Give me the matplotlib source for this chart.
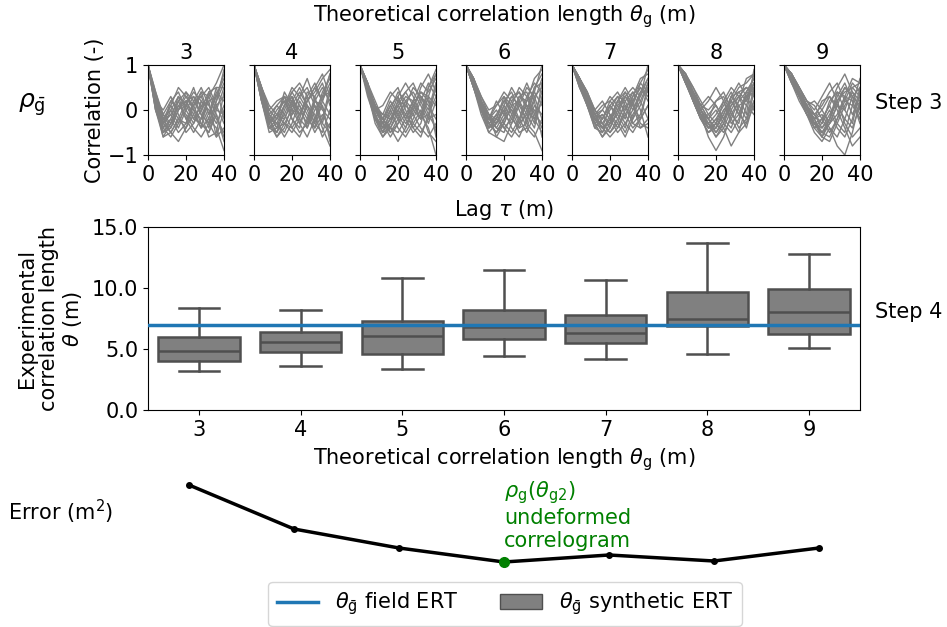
import matplotlib
matplotlib.use("Agg")
import matplotlib.pyplot as plt
from matplotlib.lines import Line2D
from matplotlib.patches import Patch

plt.rcParams['font.family'] = ['DejaVu Sans']
plt.rcParams['font.size'] = 15
plt.rcParams['mathtext.fontset'] = 'dejavusans'

# --- data -----------------------------------------------------------------
theta_g = [3, 4, 5, 6, 7, 8, 9]
lags = [0, 4, 8, 12, 16, 20, 24, 28, 32, 36, 40]

# correlograms of the synthetic fields, one list of curves per theta_g
corr_3 = [
    [1, .3, -.3, -.1, .2, -.2, .1, .4, -.1, .3, .8],
    [1, .1, -.5, -.4, 0, .3, .1, -.3, -.5, 0, .5],
    [1, .4, -.1, .2, .4, 0, -.3, 0, .4, .5, -.2],
    [1, .2, -.4, -.6, -.3, .1, .4, .2, -.2, -.4, -.9],
    [1, 0, -.6, -.3, .1, -.1, -.4, -.6, -.3, .2, .9],
    [1, .3, -.2, -.5, -.7, -.4, .1, .3, .5, .1, .3],
    [1, .2, 0, .3, -.1, -.5, -.3, .2, 0, -.3, .1],
    [1, .1, -.3, .1, .5, .3, 0, -.2, .3, .6, 1],
    [1, .3, -.4, -.2, -.5, -.3, .2, .5, .1, -.2, -.5],
    [1, .2, -.1, -.4, 0, .4, .2, -.1, -.6, -.5, .4],
    [1, .4, -.2, 0, -.3, .1, .5, 0, -.4, .1, -.3],
    [1, 0, -.5, -.2, .3, .1, -.2, .1, .2, -.6, 0],
    [1, .2, -.3, -.5, -.2, .2, .3, -.1, -.3, .2, .6],
    [1, .1, -.2, .1, -.2, -.4, -.1, .4, .3, -.1, -.6],
    [1, .3, -.5, -.3, .2, .4, 0, -.4, -.2, .4, .2],
    [1, .2, -.2, -.1, -.4, 0, .3, .1, -.3, -.6, -.4],
    [1, 0, -.4, 0, .3, -.2, -.5, -.2, .2, .3, .7],
    [1, .3, -.1, -.3, .1, .2, -.1, -.4, .4, 0, -.1],
    [1, .1, -.6, -.5, -.2, -.3, .2, .3, -.1, .5, .5],
    [1, .2, -.3, .2, 0, .2, -.2, -.3, -.5, -.1, -.7],
]
corr_4 = [
    [1, .4, -.2, -.3, .1, .3, -.1, .3, .6, .2, .8],
    [1, .3, -.3, -.6, -.4, .1, .4, .1, -.3, -.5, 0],
    [1, .5, 0, .2, .3, -.2, -.4, .2, .5, .8, .3],
    [1, .3, -.4, -.5, 0, .4, .6, .3, -.2, .1, -.7],
    [1, .4, -.1, -.3, -.6, -.3, .2, -.1, -.5, -.2, .5],
    [1, .2, -.4, -.2, .3, .2, -.3, -.6, -.2, .4, .7],
    [1, .5, .1, -.1, -.3, -.5, -.2, .4, .3, -.3, -.5],
    [1, .3, -.3, 0, .2, -.1, .3, .7, .2, .5, .2],
    [1, .4, -.2, -.5, -.2, .2, 0, -.3, .1, -.4, -.8],
    [1, .2, -.5, -.4, .1, .5, .3, 0, -.4, .2, .6],
    [1, .5, -.1, .1, -.1, -.4, -.6, -.2, .2, 0, -.2],
    [1, .3, -.2, -.2, .4, .1, -.1, .2, .4, .7, .9],
    [1, .3, -.1, -.4, -.3, 0, .3, .5, .1, -.3, .4],
    [1, .4, -.3, -.1, .2, -.2, -.5, -.3, .3, .6, .1],
    [1, .2, -.4, -.3, -.5, -.1, .1, -.2, -.4, -.1, -.4],
    [1, .5, 0, -.2, .1, .4, .1, -.4, 0, .3, .8],
    [1, .3, -.2, -.6, -.3, -.4, -.1, .2, .5, .2, -.1],
    [1, .4, -.3, -.1, -.2, .2, .5, .1, -.1, -.6, -.3],
    [1, .2, -.2, .1, .3, 0, -.3, .1, -.3, .3, .4],
    [1, .4, -.1, -.4, -.1, .3, -.2, -.4, .2, .1, -.6],
]
corr_5 = [
    [1, .5, -.1, -.4, -.2, .2, .4, .1, -.2, .3, .8],
    [1, .6, 0, -.3, -.6, -.3, .1, .5, .3, -.1, -.4],
    [1, .4, -.2, -.5, 0, .4, .2, -.3, -.5, -.2, .6],
    [1, .5, .1, -.1, .3, .5, 0, -.4, -.1, .5, .9],
    [1, .6, .2, -.2, -.4, -.7, -.4, .1, .4, .2, -.5],
    [1, .4, -.3, -.6, -.3, .1, -.2, -.5, -.3, .3, .1],
    [1, .5, 0, -.2, .2, -.1, -.4, 0, .5, .8, .4],
    [1, .3, -.2, -.4, -.1, .3, .6, .3, -.1, -.4, -1],
    [1, .5, .1, -.3, -.5, -.2, .2, .4, .1, -.3, .2],
    [1, .6, -.1, -.5, -.2, 0, -.3, -.1, .3, .1, -.2],
    [1, .4, 0, .1, .4, .2, -.1, .2, .6, .4, .7],
    [1, .5, -.2, -.3, 0, -.4, -.6, -.3, 0, -.5, -.7],
    [1, .5, 0, -.3, -.4, 0, .3, .2, -.2, -.1, .5],
    [1, .4, -.1, -.2, .1, -.2, -.5, -.2, .2, .6, .3],
    [1, .6, .1, -.4, -.3, .2, .1, -.1, -.4, -.6, -.3],
    [1, .5, -.1, -.5, -.4, -.5, -.2, .2, .3, 0, .6],
    [1, .4, 0, -.1, -.2, .1, .4, .6, .2, -.2, -.1],
    [1, .5, .1, -.2, -.5, -.3, -.1, -.4, -.6, -.1, .3],
    [1, .6, 0, -.3, .1, .3, -.2, .1, .4, .3, -.6],
    [1, .4, -.2, -.6, -.4, -.1, .2, 0, -.2, .5, .8],
]
corr_6 = [
    [1, .6, .1, -.3, -.5, -.2, .2, .4, .1, -.3, .6],
    [1, .7, .2, -.2, -.3, .1, .5, .2, -.3, -.5, -.9],
    [1, .5, 0, -.4, -.2, .3, .1, -.3, -.1, .4, 1],
    [1, .6, .2, -.1, -.6, -.7, -.3, .1, .5, .3, -.2],
    [1, .7, .3, 0, .1, .4, .2, -.2, -.5, -.1, .4],
    [1, .5, -.1, -.5, -.3, 0, -.4, -.6, -.2, .5, .8],
    [1, .6, .1, -.2, .2, -.1, -.3, .2, .6, .2, -.6],
    [1, .7, .2, -.3, -.5, -.3, .1, .5, .3, -.2, .2],
    [1, .6, 0, -.4, -.1, .2, .4, 0, -.4, -.6, -.2],
    [1, .5, .1, -.1, -.4, -.5, -.1, .3, .2, .7, .9],
    [1, .6, .2, -.2, 0, -.3, -.5, -.2, .1, 0, -.4],
    [1, .7, .1, -.3, -.2, .2, 0, -.4, -.3, .3, .5],
    [1, .6, .1, -.2, -.4, -.1, .3, .1, -.2, .2, .7],
    [1, .5, 0, -.3, -.1, -.4, -.2, .3, .4, -.1, -.3],
    [1, .7, .2, -.1, -.3, .1, -.2, -.4, 0, .5, .6],
    [1, .6, 0, -.5, -.6, -.3, .1, .2, -.1, -.4, .3],
    [1, .5, .1, -.2, .1, .3, -.1, -.5, -.4, .1, -.1],
    [1, .7, .3, -.1, -.2, -.4, -.6, -.3, .2, .4, .1],
    [1, .6, .1, -.4, -.3, 0, .3, .4, 0, -.2, -.5],
    [1, .5, 0, -.3, -.5, -.2, 0, -.2, .3, .6, .4],
]
corr_7 = [
    [1, .7, .3, -.1, -.4, -.2, .2, .4, .1, -.2, .5],
    [1, .6, .2, -.3, -.6, -.4, 0, .3, .5, .3, 1],
    [1, .7, .4, 0, -.2, .2, .4, .1, -.3, -.4, -.2],
    [1, .5, .1, -.4, -.5, -.1, -.3, -.6, -.2, .4, .7],
    [1, .7, .3, -.2, 0, .3, .1, -.2, .3, .6, .9],
    [1, .6, .2, -.2, -.3, -.5, -.3, .2, .4, 0, -.6],
    [1, .7, .3, 0, .2, -.1, -.4, -.1, .2, .5, .3],
    [1, .6, .1, -.3, -.6, -.3, .2, .5, .2, -.3, -.4],
    [1, .7, .4, -.1, -.2, .1, -.2, -.5, -.1, .2, .6],
    [1, .6, .2, -.2, -.4, -.6, -.4, 0, .3, .7, .8],
    [1, .7, .3, -.1, .1, .2, 0, -.3, -.5, -.2, .1],
    [1, .5, .1, -.3, -.1, -.3, .1, .3, 0, .4, .4],
    [1, .6, .2, -.2, -.3, 0, .3, .2, -.2, .1, .6],
    [1, .7, .3, -.1, -.4, -.3, -.1, .3, .1, -.4, -.3],
    [1, .6, .1, -.4, -.2, .1, -.1, -.4, .2, .5, .2],
    [1, .7, .4, 0, -.3, -.5, -.2, .1, -.3, -.1, .5],
    [1, .5, .2, -.2, -.5, -.2, .2, 0, .4, .2, -.2],
    [1, .6, .3, -.1, 0, -.2, -.5, -.3, 0, .3, .7],
    [1, .7, .2, -.3, -.4, .1, .3, -.1, -.4, -.2, .1],
    [1, .6, .2, -.2, -.1, -.4, 0, .4, .1, .6, .4],
]
corr_8 = [
    [1, .7, .3, 0, -.3, -.5, -.2, .2, .5, .6, .8],
    [1, .8, .4, .1, -.2, -.4, -.1, .3, .1, -.2, .2],
    [1, .7, .2, -.2, -.5, -.3, .2, .5, .3, -.1, .9],
    [1, .6, .2, -.1, -.6, -.9, -.6, -.1, .2, .4, .3],
    [1, .8, .5, .1, 0, .2, .4, 0, -.4, -.2, .5],
    [1, .7, .3, -.1, -.4, -.2, -.4, -.8, -.5, .1, .6],
    [1, .8, .4, 0, .2, .5, .2, -.3, -.1, .4, .7],
    [1, .6, .2, -.2, -.3, -.6, -.3, .3, .6, .3, 0],
    [1, .7, .3, 0, -.2, 0, -.3, -.5, -.2, .3, .5],
    [1, .8, .5, .2, -.1, -.3, -.5, -.2, .2, .7, .8],
    [1, .7, .2, -.2, -.5, -.4, 0, .2, -.1, -.3, .4],
    [1, .6, .3, .1, .3, .1, -.2, .1, .4, .2, .6],
    [1, .7, .4, 0, -.4, -.3, 0, .2, -.1, .3, .6],
    [1, .8, .3, -.1, -.3, -.1, .2, -.2, -.5, -.3, .1],
    [1, .7, .4, .1, -.2, -.5, -.3, .1, .3, .5, .4],
    [1, .6, .3, -.1, -.4, -.2, .1, .4, 0, -.4, .2],
    [1, .7, .2, -.2, -.1, .1, -.2, -.4, .1, .2, .8],
    [1, .8, .4, 0, -.3, -.6, -.4, 0, .3, .1, -.1],
    [1, .7, .3, -.1, -.2, .2, .3, -.1, -.3, .4, .7],
    [1, .6, .2, -.2, -.4, -.4, -.1, .3, .4, .5, .3],
]
corr_9 = [
    [1, .8, .4, .1, -.2, -.5, -.3, .1, .5, .3, .1],
    [1, .7, .4, 0, -.4, -.6, -.2, .3, .6, .2, -.3],
    [1, .8, .5, .2, 0, .3, .6, .2, -.3, -.6, -.4],
    [1, .7, .3, -.1, -.5, -.7, -.4, -.8, -1, -.5, .2],
    [1, .8, .5, .2, .1, -.2, .1, .5, .8, .4, 0],
    [1, .7, .3, 0, -.3, -.2, -.5, -.2, .2, .6, .4],
    [1, .6, .2, -.1, -.2, .2, .3, 0, -.4, -.8, -.6],
    [1, .8, .4, .1, -.3, -.5, -.2, .4, .3, -.1, .3],
    [1, .7, .3, -.1, -.4, -.3, 0, -.4, -.6, -.2, .5],
    [1, .8, .5, .2, -.1, .1, .4, .6, .2, .1, -.2],
    [1, .7, .4, 0, -.2, -.6, -.7, -.3, .1, .4, .2],
    [1, .6, .3, .1, .2, 0, -.3, -.1, .3, .7, .6],
    [1, .7, .4, .1, -.3, -.4, -.1, .2, .4, .5, .3],
    [1, .8, .4, 0, -.2, -.1, -.4, -.6, -.2, .3, .5],
    [1, .7, .3, -.1, -.3, -.5, -.6, -.2, .3, .2, -.2],
    [1, .8, .5, .1, -.1, -.3, .2, .4, 0, -.3, .4],
    [1, .7, .3, 0, -.4, -.2, .1, -.3, -.5, .1, .7],
    [1, .6, .3, 0, -.1, -.4, -.2, .2, .5, .3, -.1],
    [1, .8, .4, .1, -.2, 0, .3, .1, -.2, -.4, .1],
    [1, .7, .4, 0, -.3, -.6, -.3, .1, 0, .5, .6],
]
correlograms = [corr_3, corr_4, corr_5, corr_6, corr_7, corr_8, corr_9]

# experimental correlation length of the synthetic ERT models (box statistics)
whisker_low = [3.2, 3.6, 3.35, 4.4, 4.15, 4.55, 5.1]
q1 = [4.05, 4.75, 4.6, 5.8, 5.5, 6.85, 6.25]
median = [4.8, 5.55, 6.05, 6.8, 6.35, 7.45, 8.05]
q3 = [5.95, 6.4, 7.3, 8.2, 7.8, 9.65, 9.9]
whisker_high = [8.4, 8.2, 10.85, 11.5, 10.65, 13.7, 12.8]

theta_field = 7.0  # correlation length of the field ERT

# misfit between field and synthetic correlation lengths
error = [12.0, 7.6, 5.7, 4.3, 5.0, 4.4, 5.7]
best = 3  # index of the minimum (theta_g = 6)

# --- figure -----------------------------------------------------------------
W, H = 947, 627
fig = plt.figure(figsize=(W / 100, H / 100), dpi=100)


def px_axes(left, top, right, bottom):
    return fig.add_axes([left / W, 1 - bottom / H, (right - left) / W, (bottom - top) / H])


grey = '#808080'
dark = '#4f4f4f'

# Step 3: correlograms
for i, (tg, curves) in enumerate(zip(theta_g, correlograms)):
    x0 = 148 + 106 * i
    ax = px_axes(x0, 65, x0 + 76, 155)
    for c in curves:
        ax.plot(lags, c, color=grey, lw=1.0)
    ax.set_xlim(0, 40)
    ax.set_ylim(-1, 1)
    ax.set_xticks([0, 20, 40])
    ax.set_yticks([-1, 0, 1])
    ax.set_title(str(tg), fontsize=15, pad=4)
    if i == 0:
        ax.set_ylabel('Correlation (-)', labelpad=2)
    else:
        ax.set_yticklabels([])

fig.text(504 / W, 1 - 17 / H, r'Theoretical correlation length $\theta_\mathrm{g}$ (m)',
         ha='center', va='center')
fig.text(504 / W, 1 - 210 / H, r'Lag $\tau$ (m)', ha='center', va='center')
fig.text(32 / W, 1 - 105 / H, r'$\rho_{\bar{\mathrm{g}}}$', ha='center', va='center', fontsize=18)
fig.text(875 / W, 1 - 103 / H, 'Step 3', ha='left', va='center')

# Step 4: box plot of experimental correlation lengths
axb = px_axes(148, 227, 860, 410)
stats = []
for k in range(len(theta_g)):
    stats.append(dict(whislo=whisker_low[k], q1=q1[k], med=median[k], q3=q3[k],
                      whishi=whisker_high[k], fliers=[]))
positions = list(range(len(theta_g)))
axb.bxp(stats, positions=positions, widths=0.8, capwidths=0.4, patch_artist=True,
        showfliers=False,
        boxprops=dict(facecolor=grey, edgecolor=dark, linewidth=1.8),
        medianprops=dict(color=dark, linewidth=1.8),
        whiskerprops=dict(color=dark, linewidth=1.8),
        capprops=dict(color=dark, linewidth=1.8))
axb.axhline(theta_field, color='#1f77b4', lw=2.5, zorder=5)
axb.set_xlim(-0.5, len(theta_g) - 0.5)
axb.set_ylim(0, 15)
axb.set_yticks([0, 5, 10, 15])
axb.set_yticklabels(['0.0', '5.0', '10.0', '15.0'])
axb.set_xticks(positions)
axb.set_xticklabels([str(t) for t in theta_g])
axb.set_xlabel(r'Theoretical correlation length $\theta_\mathrm{g}$ (m)', labelpad=5)
axb.set_ylabel('Experimental\ncorrelation length\n' + r'$\theta$ (m)', linespacing=1.1,
               labelpad=6)
fig.text(875 / W, 1 - 312 / H, 'Step 4', ha='left', va='center')

# error curve
axe = px_axes(136.5, 470, 871.5, 575)
xs = list(range(len(error)))
axe.plot(xs, error, color='black', lw=2.5, marker='o', ms=4)
axe.plot([xs[best]], [error[best]], 'o', color='green', ms=7, zorder=5)
axe.set_xlim(-0.5, len(error) - 0.5)
axe.set_ylim(3.0, 13.5)
axe.axis('off')
axe.text(xs[best], 12.6, r'$\rho_\mathrm{g}(\theta_\mathrm{g2})$' + '\nundeformed\ncorrelogram',
         color='green', ha='left', va='top', fontsize=15, linespacing=1.15)
fig.text(8 / W, 1 - 512 / H, r'Error (m$^2$)', ha='left', va='center')

# legend
handles = [Line2D([0], [0], color='#1f77b4', lw=2.5),
           Patch(facecolor=grey, edgecolor=dark)]
labels = [r'$\theta_{\bar{\mathrm{g}}}$ field ERT', r'$\theta_{\bar{\mathrm{g}}}$ synthetic ERT']
fig.legend(handles, labels, loc='center', bbox_to_anchor=(505 / W, 1 - 604 / H), ncol=2,
           fontsize=15, handlelength=2.0, columnspacing=2.0)

fig.savefig('out.png', dpi=100)
